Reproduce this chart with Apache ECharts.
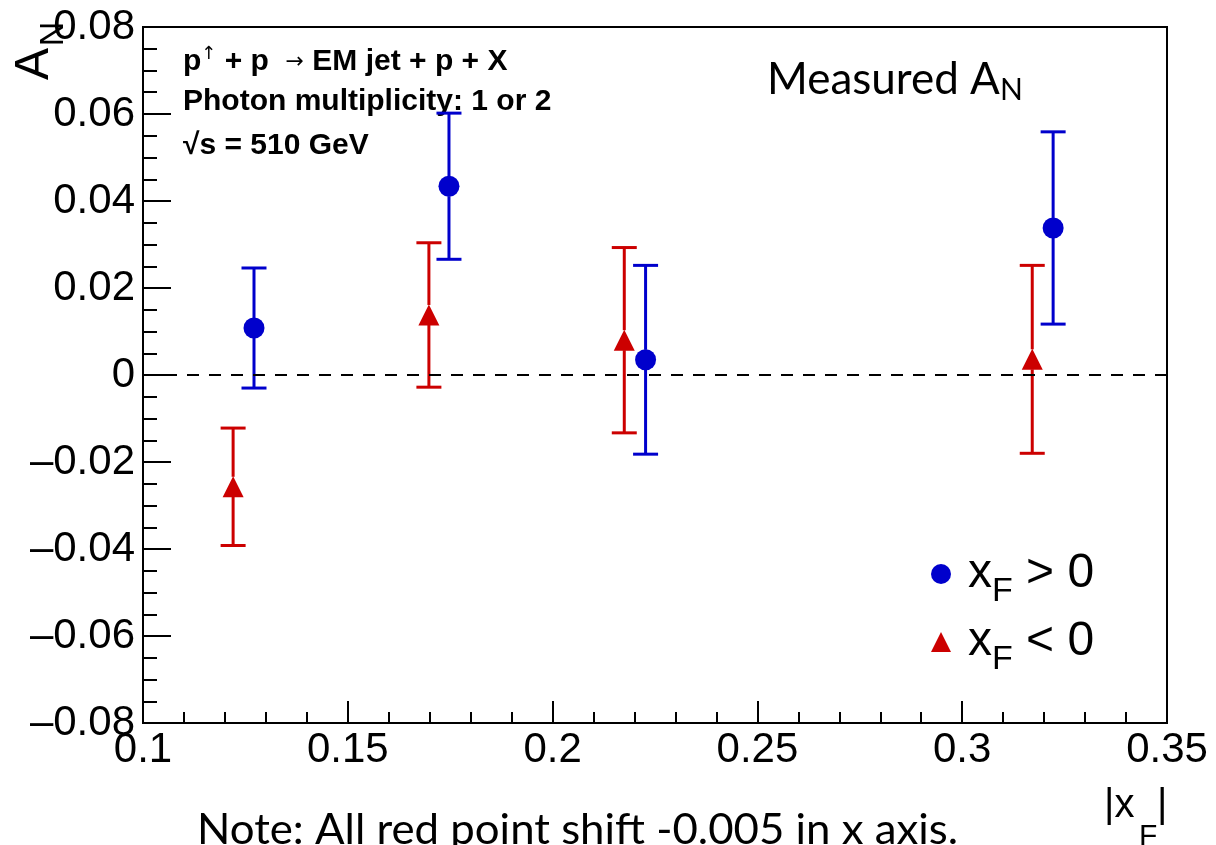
<!DOCTYPE html>
<html><head><meta charset="utf-8">
<script src="https://cdn.jsdelivr.net/npm/echarts@6/dist/echarts.min.js"></script>
<style>html,body{margin:0;padding:0;background:#fff}#c{width:1216px;height:845px}</style>
</head><body><div id="c"></div>
<script>
// ---- data ----
const xPos = [0.1271, 0.1747, 0.2227, 0.3222];
const anPos = [0.0108, 0.0434, 0.0035, 0.0338];
const errPos = [0.0138, 0.0168, 0.0217, 0.0221];
const xNeg = [0.1220, 0.1698, 0.2175, 0.3171];
const anNeg = [-0.0257, 0.0138, 0.0080, 0.0036];
const errNeg = [0.0135, 0.0166, 0.0213, 0.0216];
const xTickLabels = ['0.1', '0.15', '0.2', '0.25', '0.3', '0.35'];
const yTickLabels = ['\u20130.08', '\u20130.06', '\u20130.04', '\u20130.02', '0', '0.02', '0.04', '0.06', '0.08'];
const seriesNames = ['xF > 0', 'xF < 0'];
const infoLines = ['{b|p}{s|\u2191}{b| + p  }{a|\u2192}{b| EM jet + p + X}', '{b|Photon multiplicity: 1 or 2}', '{b|\u221as = 510 GeV}'];
const noteText = 'Note: All red point shift -0.005 in x axis.';

const BLUE = '#0000cc', RED = '#cc0000';
const FONT = 'Liberation Sans';

function errRender(color, gap) {
  return function (params, api) {
    const x = api.value(0), y = api.value(1), e = api.value(2);
    const c = api.coord([x, y]);
    const t = api.coord([x, y + e]);
    const b = api.coord([x, y - e]);
    const hw = 12.5;
    const st = { stroke: color, lineWidth: 3 };
    const ch = [];
    if (c[1] - gap > t[1]) ch.push({ type: 'line', shape: { x1: c[0], y1: t[1], x2: c[0], y2: c[1] - gap }, style: st });
    if (c[1] + gap < b[1]) ch.push({ type: 'line', shape: { x1: c[0], y1: c[1] + gap, x2: c[0], y2: b[1] }, style: st });
    ch.push({ type: 'line', shape: { x1: c[0] - hw, y1: t[1], x2: c[0] + hw, y2: t[1] }, style: st });
    ch.push({ type: 'line', shape: { x1: c[0] - hw, y1: b[1], x2: c[0] + hw, y2: b[1] }, style: st });
    return { type: 'group', children: ch };
  };
}

// measure note width to mimic the compressed look
const cv = document.createElement('canvas').getContext('2d');
cv.font = '42px Lato';
const noteW = cv.measureText(noteText).width;
const noteScale = 761 / noteW;

const infoRich = {
  b: { font: 'bold 30px "Liberation Sans"', fill: '#000', lineHeight: 34 },
  s: { font: '18px "DejaVu Sans"', fill: '#000', verticalAlign: 'top', lineHeight: 34 },
  a: { font: '22px "DejaVu Sans"', fill: '#000', lineHeight: 34 }
};

const chart = echarts.init(document.getElementById('c'), null, { renderer: 'canvas' });
chart.setOption({
  animation: false,
  backgroundColor: '#fff',
  grid: { left: 143, top: 27, width: 1024, height: 696, show: true, borderColor: '#000', borderWidth: 2, backgroundColor: 'transparent' },
  xAxis: {
    type: 'value', min: 0.1, max: 0.35, interval: 0.05,
    axisLine: { show: true, onZero: false, lineStyle: { color: '#000', width: 2 } },
    axisTick: { show: true, inside: true, length: 22, lineStyle: { color: '#000', width: 2 } },
    minorTick: { show: true, splitNumber: 5, length: 11, lineStyle: { color: '#000', width: 2 } },
    splitLine: { show: false },
    axisLabel: {
      color: '#000', fontFamily: FONT, fontSize: 42, margin: 6,
      formatter: v => xTickLabels[Math.round((v - 0.1) / 0.05)]
    }
  },
  yAxis: {
    type: 'value', min: -0.08, max: 0.08, interval: 0.02,
    axisLine: { show: true, onZero: false, lineStyle: { color: '#000', width: 2 } },
    axisTick: { show: true, inside: true, length: 28, lineStyle: { color: '#000', width: 2 } },
    minorTick: { show: true, splitNumber: 4, length: 14, lineStyle: { color: '#000', width: 2 } },
    splitLine: { show: false },
    axisLabel: {
      color: '#000', fontFamily: FONT, fontSize: 42, margin: 8,
      formatter: v => yTickLabels[Math.round((v + 0.08) / 0.02)]
    }
  },
  legend: {
    orient: 'vertical', left: 926, top: 545, itemWidth: 20, itemHeight: 20, itemGap: 9,
    data: seriesNames,
    formatter: n => n === seriesNames[0] ? '{x|x}{f|F}{o| > 0}' : '{x|x}{f|F}{o| < 0}',
    textStyle: {
      rich: {
        x: { fontFamily: FONT, fontSize: 48, lineHeight: 70, color: '#000', padding: [0, 0, 0, 12] },
        f: { fontFamily: FONT, fontSize: 34, lineHeight: 36, color: '#000', verticalAlign: 'bottom' },
        o: { fontFamily: FONT, fontSize: 48, lineHeight: 70, color: '#000' }
      }
    }
  },
  graphic: [
    { type: 'text', left: 183, top: 45, style: { text: infoLines[0], rich: infoRich } },
    { type: 'text', left: 183, top: 87, style: { text: infoLines[1], rich: infoRich } },
    { type: 'text', left: 183, top: 131, style: { text: infoLines[2], rich: infoRich } },
    { type: 'text', left: 767, top: 58, style: { text: '{m|Measured A}{n|N}', rich: { m: { font: '44px Lato', fill: '#000', lineHeight: 50 }, n: { font: '30px Lato', fill: '#000', verticalAlign: 'bottom', lineHeight: 30 } } } },
    { type: 'text', x: 35, y: 64, rotation: Math.PI / 2, style: { text: 'A', font: '48px "Liberation Sans"', fill: '#000', align: 'center', verticalAlign: 'middle' } },
    { type: 'text', x: 54, y: 34, rotation: Math.PI / 2, style: { text: 'N', font: '34px "Liberation Sans"', fill: '#000', align: 'center', verticalAlign: 'middle' } },
    { type: 'text', x: 1104, y: 786, style: { text: '|x', font: '40px "Liberation Sans"', fill: '#000', verticalAlign: 'top' } },
    { type: 'text', x: 1139, y: 822, style: { text: 'F', font: '30px "Liberation Sans"', fill: '#000', verticalAlign: 'top' } },
    { type: 'text', x: 1157, y: 786, style: { text: '|', font: '40px "Liberation Sans"', fill: '#000', verticalAlign: 'top' } },
    { type: 'text', x: 197, y: 809, scaleX: noteScale, style: { text: noteText, font: '42px Lato', fill: '#000', verticalAlign: 'top' } }
  ],
  series: [
    {
      name: 'errPos', type: 'custom', renderItem: errRender(BLUE, 10), z: 3,
      data: xPos.map((x, i) => [x, anPos[i], errPos[i]]), silent: true
    },
    {
      name: 'errNeg', type: 'custom', renderItem: errRender(RED, 10), z: 3,
      data: xNeg.map((x, i) => [x, anNeg[i], errNeg[i]]), silent: true
    },
    {
      name: seriesNames[0], type: 'scatter', symbol: 'circle', symbolSize: 21, z: 4,
      itemStyle: { color: BLUE, opacity: 1 },
      data: xPos.map((x, i) => [x, anPos[i]]),
      markLine: {
        silent: true, symbol: 'none', label: { show: false },
        lineStyle: { type: [12, 10], color: '#000', width: 2 },
        data: [{ yAxis: 0 }]
      }
    },
    {
      name: seriesNames[1], type: 'scatter', symbol: 'triangle', symbolSize: 21, z: 4,
      itemStyle: { color: RED, opacity: 1 },
      data: xNeg.map((x, i) => [x, anNeg[i]])
    }
  ]
});
</script>
</body></html>
